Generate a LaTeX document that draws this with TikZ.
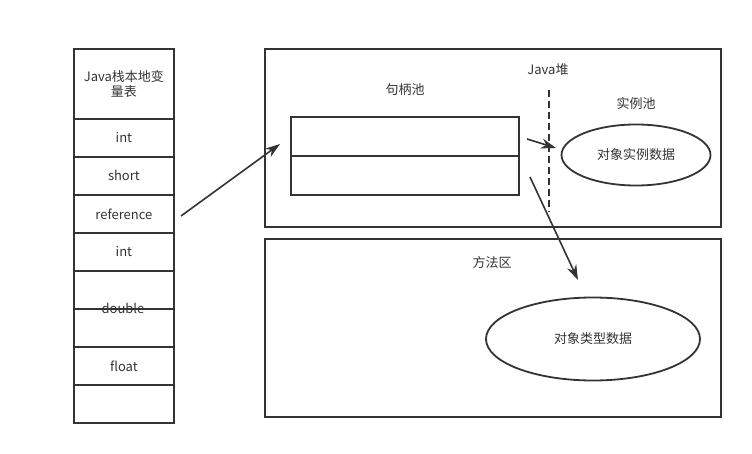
\documentclass[tikz,border=0pt]{standalone}
\usepackage{fontspec}
\setmainfont{Noto Sans CJK SC}
\usetikzlibrary{arrows.meta,shapes.geometric}
\definecolor{ink}{HTML}{333333}

\begin{document}
\begin{tikzpicture}[x=1pt,y=-1pt,font=\fontsize{13}{15}\selectfont,
    cell/.style={draw=ink,line width=1.8pt,minimum width=100pt,minimum height=38pt,inner sep=0pt,text=ink,anchor=north west},
    area/.style={draw=ink,line width=1.8pt,anchor=north west,inner sep=0pt},
    pool/.style={draw=ink,line width=1.8pt,ellipse,inner sep=0pt,text=ink},
    lbl/.style={text=ink,inner sep=1pt},
    ref/.style={-{Stealth[length=15pt,width=10pt]},line width=1.6pt,ink}]

  \useasboundingbox (0,0) rectangle (752,454);

  % local variable table
  \node[cell,minimum height=70pt,align=center] (head) at (73,48) {Java栈本地变\\量表};
  \node[cell] (c1) at (73,118) {int};
  \node[cell] (c2) at (73,156) {short};
  \node[cell] (c3) at (73,194) {reference};
  \node[cell] (c4) at (73,232) {int};
  \node[cell] (c5) at (73,270) {};
  \node[cell] (c6) at (73,308) {};
  \node[cell] (c7) at (73,346) {float};
  \node[cell] (c8) at (73,384) {};
  \node[lbl] (dbl) at (123,308) {double};

  % heap and method area
  \node[area,minimum width=456pt,minimum height=178pt] (heap) at (264,48) {};
  \node[area,minimum width=456pt,minimum height=178pt] (method) at (264,238) {};
  \node[lbl] (heapname) at (548,70) {Java堆};
  \node[lbl] (handlename) at (405,90) {句柄池};
  \node[lbl] (instname) at (636,104) {实例池};
  \node[lbl] (methodname) at (492,263) {方法区};

  % handle pool
  \node[area,minimum width=228pt,minimum height=39pt] (h1) at (290,116) {};
  \node[area,minimum width=228pt,minimum height=39pt] (h2) at (290,155) {};

  \coordinate (dtop) at (549,90);
  \coordinate (dbot) at (549,212);
  \draw[ink,line width=1.8pt,dash pattern=on 7pt off 4pt] (dtop) -- (dbot);

  \node[pool,minimum width=149pt,minimum height=61pt] (inst) at (636,155) {对象实例数据};
  \node[pool,minimum width=214pt,minimum height=83pt] (type) at (593,339) {对象类型数据};

  % references
  \coordinate (r0) at (181,216);
  \coordinate (r1) at (280,144);
  \coordinate (i0) at (527,139);
  \coordinate (i1) at (556,148);
  \coordinate (t0) at (530,177);
  \coordinate (t1) at (578,280);
  \draw[ref] (r0) -- (r1);
  \draw[ref] (i0) -- (i1);
  \draw[ref] (t0) -- (t1);
\end{tikzpicture}
\end{document}
